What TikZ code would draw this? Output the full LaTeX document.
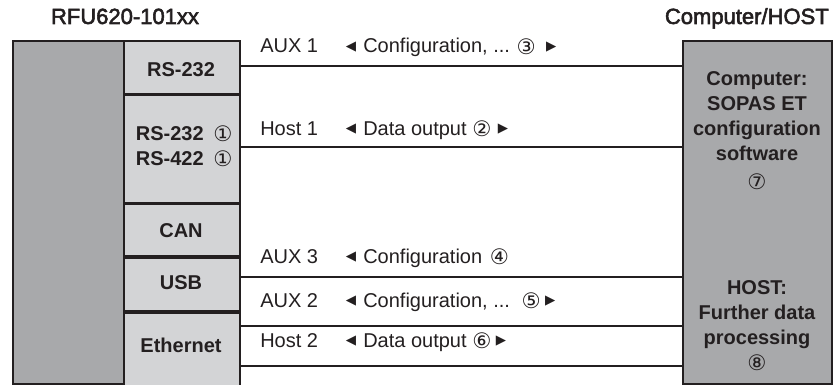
\documentclass[tikz,border=0pt]{standalone}
\usepackage{fontspec}
\setmainfont{Liberation Sans}
\newfontfamily\sym{DejaVu Sans}
\newfontfamily\medfont[FakeBold=2.5]{Liberation Sans}
\definecolor{ln}{HTML}{231F20}
\definecolor{dgray}{HTML}{A8A9AB}
\definecolor{lgray}{HTML}{D3D4D6}
\begin{document}
\begin{tikzpicture}[x=0.75pt,y=-0.75pt,
  every node/.style={text=ln},
  dev/.style={draw=ln, line width=1.3pt, fill=dgray, inner sep=0pt, anchor=north west},
  cell/.style={draw=ln, line width=1.3pt, fill=lgray, inner sep=0pt, anchor=north west, minimum width=87pt},
  celltxt/.style={anchor=base, inner sep=0pt, font=\bfseries\fontsize{15}{18.75}\selectfont},
  lbl/.style={anchor=base west, inner sep=0pt, font=\fontsize{15}{17}\selectfont},
  circ/.style={inner sep=0pt, font=\sym\fontsize{16}{16}\selectfont},
  tri/.style={inner sep=0pt, font=\sym\fontsize{10}{10}\selectfont},
  conn/.style={draw=ln, line width=1.3pt},
  ttl/.style={font=\medfont\fontsize{16.5}{19}\selectfont, anchor=base, inner sep=0pt},
  hosttxt/.style={font=\bfseries\fontsize{15}{18.75}\selectfont, align=center, inner sep=0pt, anchor=north}
]
\useasboundingbox (0,0) rectangle (835,385);

% titles
\node[ttl] (t1) at (125,24) {RFU620-101xx};
\node[ttl, anchor=base east] (t2) at (829,24) {Computer/HOST};

% device
\node[dev, minimum width=83.25pt, minimum height=257.25pt] (dev) at (12,40) {};
\node[cell, minimum height=39.75pt] (rsa) at (123,40) {};
\node[cell, minimum height=80.25pt] (rsb) at (rsa.south west) {};
\node[cell, minimum height=39pt] (can) at (rsb.south west) {};
\node[cell, minimum height=39.75pt] (usb) at (can.south west) {};
\node[cell, minimum height=58.5pt] (eth) at (usb.south west) {};

\node[celltxt] (rsat) at (181,77) {RS-232};
\node[celltxt, anchor=base east] (rsbt1) at (204,140) {RS-232};
\node[circ] (c1a) at (223,134) {①};
\node[celltxt, anchor=base east] (rsbt2) at (204,165) {RS-422};
\node[circ] (c1b) at (223,159) {①};
\node[celltxt] (cant) at (181,237) {CAN};
\node[celltxt] (usbt) at (181,289) {USB};
\node[celltxt] (etht) at (181,352) {Ethernet};

% host box
\node[dev, minimum width=111.75pt, minimum height=257.25pt] (host) at (682,40) {};
\node[hosttxt] (pc) at (757,71) {Computer:\\SOPAS ET\\configuration\\software};
\node[circ] (c7) at (757,182) {⑦};
\node[hosttxt] (hp) at (757,280) {HOST:\\Further data\\processing};
\node[circ] (c8) at (757,363) {⑧};

% connectors
\coordinate (y1) at (0,66);
\coordinate (y2) at (0,147);
\coordinate (y3) at (0,277);
\coordinate (y4) at (0,326);
\coordinate (y5) at (0,366);
\draw[conn] (rsa.east |- y1) -- (host.west |- y1);
\draw[conn] (rsb.east |- y2) -- (host.west |- y2);
\draw[conn] (usb.east |- y3) -- (host.west |- y3);
\draw[conn] (eth.east |- y4) -- (host.west |- y4);
\draw[conn] (eth.east |- y5) -- (host.west |- y5);

% labels row 1
\node[lbl] (l1) at (260,53) {AUX 1};
\node[tri] (a1l) at (351,47) {◀};
\node[lbl] (m1) at (363,53) {Configuration, ...};
\node[circ] (c3) at ([shift={(16,-6)}]m1.base east) {③};
\node[tri] (a1r) at ([shift={(41,-6)}]m1.base east) {▶};
% row 2
\node[lbl] (l2) at (260,135) {Host 1};
\node[tri] (a2l) at (351,129) {◀};
\node[lbl] (m2) at (363,135) {Data output};
\node[circ] (c2) at ([shift={(15,-6)}]m2.base east) {②};
\node[tri] (a2r) at ([shift={(36,-6)}]m2.base east) {▶};
% row 3
\node[lbl] (l3) at (260,263) {AUX 3};
\node[tri] (a3l) at (351,257) {◀};
\node[lbl] (m3) at (363,263) {Configuration};
\node[circ] (c4) at ([shift={(17,-6)}]m3.base east) {④};
% row 4
\node[lbl] (l4) at (260,307) {AUX 2};
\node[tri] (a4l) at (351,301) {◀};
\node[lbl] (m4) at (363,307) {Configuration, ...};
\node[circ] (c5) at ([shift={(21,-6)}]m4.base east) {⑤};
\node[tri] (a4r) at ([shift={(40,-6)}]m4.base east) {▶};
% row 5
\node[lbl] (l5) at (260,347) {Host 2};
\node[tri] (a5l) at (351,341) {◀};
\node[lbl] (m5) at (363,347) {Data output};
\node[circ] (c6) at ([shift={(15,-6)}]m5.base east) {⑥};
\node[tri] (a5r) at ([shift={(34,-6)}]m5.base east) {▶};
\end{tikzpicture}
\end{document}
